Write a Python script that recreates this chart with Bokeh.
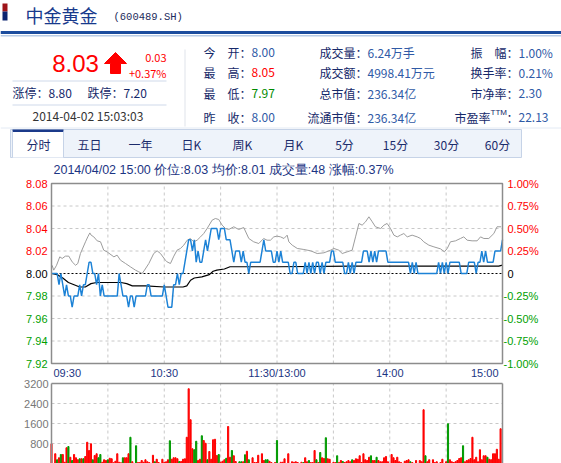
from bokeh.plotting import figure
from bokeh.models import Range1d
from bokeh.layouts import column
from bokeh.core.properties import value
from bokeh.embed import file_html
from bokeh.resources import INLINE

# ---------------- data ----------------
stock_name = "中金黄金"
stock_code = "(600489.SH)"
last_price = "8.03"
change_abs = "0.03"
change_pct = "+0.37%"
limit_up = "涨停：8.80"
limit_down = "跌停：7.20"
quote_time = "2014-04-02 15:03:03"

col1_labels = ["今\u3000开：", "最\u3000高：", "最\u3000低：", "昨\u3000收："]
col1_values = ["8.00", "8.05", "7.97", "8.00"]
col1_kinds = ["flat", "up", "down", "flat"]
col2_labels = ["成交量：", "成交额：", "总市值：", "流通市值："]
col2_values = ["6.24万手", "4998.41万元", "236.34亿", "236.34亿"]
col3_labels = ["振\u3000幅：", "换手率：", "市净率：", "市盈率"]
col3_values = ["1.00%", "0.21%", "2.30", "22.13"]

tabs = ["分时", "五日", "一年", "日K", "周K", "月K", "5分", "15分", "30分", "60分"]
info_line = "2014/04/02 15:00  价位:8.03  均价:8.01  成交量:48  涨幅:0.37%"

prev_close = 8.00
price_ticks = [8.08, 8.06, 8.04, 8.02, 8.00, 7.98, 7.96, 7.94, 7.92]
pct_ticks = [1.0, 0.75, 0.5, 0.25, 0.0, -0.25, -0.5, -0.75, -1.0]
pct_labels = ["1.00%", "0.75%", "0.50%", "0.25%", "0", "-0.25%", "-0.50%", "-0.75%", "-1.00%"]
time_ticks = [0, 60, 120, 180, 240]
time_labels = ["09:30", "10:30", "11:30/13:00", "14:00", "15:00"]
time_grid = [30, 60, 90, 120, 150, 180, 210]
vol_ticks = [800, 1600, 2400, 3200]
vol_max = 3200

# minute price (241 minutes, 09:30 .. 15:00)
price = [
    8.00, 8.00, 8.00, 8.00, 7.99, 8.00, 7.99, 7.98, 7.99, 7.98,
    7.98, 7.97, 7.98, 7.98, 7.98, 7.99, 7.98, 7.99, 7.99, 8.00,
    8.01, 8.01, 8.00, 8.00, 7.99, 8.00, 7.98, 7.99, 7.98, 7.98,
    7.98, 7.98, 7.98, 7.98, 7.98, 7.98, 8.00, 7.99, 7.98, 7.98,
    7.98, 7.97, 7.98, 7.98, 7.97, 7.98, 7.98, 7.98, 7.98, 7.98,
    7.98, 7.99, 7.99, 7.98, 7.98, 7.98, 7.98, 7.98, 7.98, 7.98,
    7.99, 7.98, 7.97, 7.97, 7.97, 7.99, 7.99, 8.00, 7.99, 8.00,
    8.00, 8.01, 8.02, 8.03, 8.03, 8.02, 8.03, 8.01, 8.02, 8.01,
    8.01, 8.02, 8.03, 8.02, 8.03, 8.04, 8.04, 8.04, 8.04, 8.03,
    8.04, 8.04, 8.04, 8.03, 8.03, 8.03, 8.02, 8.01, 8.02, 8.02,
    8.02, 8.01, 8.02, 8.01, 8.01, 8.00, 8.01, 8.01, 8.01, 8.01,
    8.01, 8.01, 8.02, 8.03, 8.02, 8.02, 8.02, 8.02, 8.01, 8.01,
    8.02, 8.01, 8.02, 8.01, 8.01, 8.01, 8.01, 8.00, 8.00, 8.01,
    8.01, 8.00, 8.00, 8.00, 8.00, 8.01, 8.00, 8.01, 8.00, 8.01,
    8.00, 8.01, 8.01, 8.00, 8.01, 8.00, 8.01, 8.01, 8.01, 8.02,
    8.02, 8.01, 8.01, 8.01, 8.01, 8.01, 8.00, 8.00, 8.01, 8.00,
    8.01, 8.00, 8.01, 8.01, 8.01, 8.01, 8.02, 8.02, 8.02, 8.01,
    8.02, 8.01, 8.02, 8.01, 8.02, 8.02, 8.02, 8.02, 8.02, 8.01,
    8.01, 8.01, 8.01, 8.01, 8.01, 8.01, 8.01, 8.01, 8.01, 8.01,
    8.01, 8.00, 8.01, 8.00, 8.01, 8.00, 8.00, 8.00, 8.00, 8.00,
    8.00, 8.00, 8.00, 8.00, 8.00, 8.00, 8.01, 8.00, 8.01, 8.00,
    8.01, 8.00, 8.01, 8.01, 8.01, 8.01, 8.01, 8.01, 8.00, 8.00,
    8.00, 8.00, 8.01, 8.01, 8.01, 8.01, 8.00, 8.01, 8.01, 8.02,
    8.01, 8.02, 8.01, 8.01, 8.01, 8.01, 8.02, 8.02, 8.02, 8.02,
    8.03,
]
minutes = list(range(len(price)))

# average price (read points)
avg_t = [0, 3, 6, 9, 12, 15, 18, 21, 24, 30, 37, 40, 43, 50, 60, 70, 72, 74, 76, 80,
         84, 86, 88, 92, 95, 120, 160, 238, 240]
avg_v = [8.000, 7.999, 7.996, 7.992, 7.990, 7.988, 7.988, 7.991, 7.992, 7.992, 7.992,
         7.991, 7.989, 7.989, 7.988, 7.988, 7.989, 7.994, 7.996, 7.997, 7.999, 8.002,
         8.003, 8.004, 8.006, 8.006, 8.0065, 8.0065, 8.0075]

# index change in % (gray line, read points)
idx_t = [0.3, 1.2, 2.7, 4.4, 5.7, 7.4, 9.2, 11, 12.8, 14, 15.4, 18.1, 19.3, 20.4, 21.1,
         22.5, 24.3, 26.1, 27.8, 29.6, 33.2, 34.9, 36.7, 39.4, 42, 44.7, 46.5, 48.2,
         49.5, 51.8, 54.4, 56.2, 58, 60.6, 61.5, 63.3, 65.1, 66.8, 68.6, 70.4, 72.2,
         73.9, 75.7, 77.5, 79.3, 81, 82.8, 85.5, 87.2, 89, 90.8, 92.6, 94.3, 97, 99.6,
         102.3, 105, 107.6, 110.3, 112.9, 114.7, 116.5, 118.3, 120,
         121.9, 123.7, 125.4, 126.3, 128.1, 130.8, 134.3, 137.9, 141.4, 145, 148.5,
         150.3, 152.9, 154.7, 157.4, 160, 161.8, 163.6, 165.3, 167.1, 168.9, 170.7,
         172.4, 175.1, 176.9, 178.6, 180.4, 182.2, 184, 185.7, 187.5, 189.3, 191.9,
         194.6, 196.4, 198.1, 200.8, 203.5, 207, 209.1, 210.6, 212.3, 215, 217.6,
         219.4, 221.2, 223.8, 226.5, 228.3, 230.1, 232.7, 235.4, 237.1, 239.3]
idx_pct = [0.092, 0.037, 0.092, 0.185, 0.167, 0.193, 0.193, 0.129, 0.092, 0.111, 0.222,
           0.352, 0.407, 0.451, 0.426, 0.407, 0.363, 0.352, 0.259, 0.240, 0.185, 0.204,
           0.148, 0.111, 0.074, 0.037, 0.018, 0.0, 0.037, 0.111, 0.222, 0.252, 0.222,
           0.148, 0.129, 0.111, 0.193, 0.259, 0.278, 0.315, 0.370, 0.389, 0.352, 0.370,
           0.407, 0.444, 0.500, 0.593, 0.611, 0.600, 0.537, 0.500, 0.489, 0.519, 0.489,
           0.511, 0.389, 0.352, 0.333, 0.389, 0.370, 0.370, 0.407, 0.415,
           0.407, 0.389, 0.426, 0.352, 0.315, 0.278, 0.267, 0.252, 0.222, 0.230, 0.259,
           0.278, 0.259, 0.222, 0.241, 0.259, 0.407, 0.556, 0.537, 0.574, 0.630, 0.574,
           0.519, 0.500, 0.537, 0.556, 0.500, 0.426, 0.407, 0.426, 0.444, 0.407, 0.426,
           0.407, 0.389, 0.352, 0.315, 0.296, 0.274, 0.241, 0.278, 0.352, 0.363, 0.389,
           0.407, 0.370, 0.363, 0.363, 0.407, 0.389, 0.389, 0.444, 0.519, 0.519]

# volume bars (minute, lots, direction)
vol_t = [0, 2, 3, 4, 5, 6, 7, 8, 9, 10, 11, 12, 13, 14, 15, 16, 17, 18, 19, 20,
         21, 22, 23, 24, 25, 26, 27, 28, 29, 30, 31, 32, 33, 34, 35, 36, 37, 38, 39, 40,
         41, 42, 43, 45, 46, 47, 48, 49, 50, 51, 52, 54, 55, 56, 57, 59, 60, 61, 62, 63,
         64, 65, 66, 67, 68, 69, 70, 71, 72, 73, 74, 75, 76, 77, 78, 79, 80, 81, 82, 83,
         84, 85, 86, 87, 88, 89, 90, 91, 92, 93, 94, 95, 96, 97, 98, 100, 101, 102, 103, 104,
         105, 107, 108, 109, 110, 112, 113, 114, 115, 116, 117, 119, 120,
         122, 123, 124, 126, 128, 129, 130, 131, 133, 134, 135, 136, 137, 138, 139, 140,
         141, 142, 143, 144, 145, 146, 147, 148, 150, 151, 152, 153, 154, 155, 156, 157,
         158, 159, 160, 161, 162, 163, 164, 165, 166, 167, 168, 169, 170, 171, 172, 173,
         174, 175, 176, 177, 178, 179, 181, 182, 183, 184, 185, 186, 188, 189, 190, 191,
         192, 194, 196, 197, 198, 199, 200, 201, 203, 204, 205, 207, 208, 210, 211, 212,
         213, 214, 215, 216, 217, 218, 219, 220, 221, 222, 223, 224, 225, 226, 227, 228,
         229, 230, 231, 232, 233, 234, 235, 236, 237, 238, 239]
vol_v = [790, 390, 150, 230, 360, 360, 50, 630, 680, 250, 120, 360, 230, 150, 190, 190, 190, 280, 850, 520,
         790, 150, 320, 390, 230, 360, 50, 150, 120, 150, 210, 190, 30, 90, 390, 50, 30, 230, 230, 230,
         390, 1050, 70, 710, 40, 40, 120, 50, 150, 70, 40, 330, 70, 170, 40, 170, 40, 70, 150, 910,
         170, 230, 230, 190, 80, 80, 170, 190, 1050, 2990, 1750, 590, 550, 890, 120, 170, 1110, 920, 810, 150,
         480, 170, 950, 970, 320, 360, 50, 90, 150, 210, 1480, 250, 520, 310, 80, 70, 70, 70, 350, 490,
         150, 230, 40, 40, 330, 390, 120, 150, 150, 90, 40, 40, 920,
         50, 50, 190, 390, 70, 50, 70, 40, 50, 40, 230, 70, 120, 40, 40, 520,
         150, 40, 440, 230, 200, 1030, 190, 170, 40, 40, 310, 40, 120, 80, 40, 70,
         120, 70, 150, 120, 190, 170, 310, 40, 390, 150, 120, 250, 310, 120, 120, 250,
         120, 70, 70, 230, 280, 70, 360, 230, 120, 250, 70, 40, 90, 120, 150, 70,
         40, 120, 120, 70, 2150, 310, 70, 150, 150, 40, 70, 40, 170, 70, 1590, 150,
         70, 40, 70, 120, 200, 230, 710, 70, 120, 150, 200, 1050, 150, 250, 70, 550,
         150, 310, 310, 250, 170, 150, 390, 390, 570, 170, 1390]
vol_dir = ["+", "+", "-", "+", "-", "+", "+", "+", "-", "+", "-", "+", "+", "+", "-", "+", "-", "+", "+", "+",
           "+", "-", "+", "+", "-", "-", "+", "+", "+", "-", "+", "+", "+", "+", "+", "+", "+", "-", "+", "+",
           "+", "-", "+", "-", "+", "+", "+", "+", "+", "+", "+", "+", "-", "+", "+", "+", "+", "+", "+", "-",
           "+", "+", "+", "+", "-", "+", "+", "+", "+", "+", "+", "+", "-", "-", "+", "+", "-", "+", "+", "-",
           "+", "+", "+", "+", "+", "-", "+", "+", "+", "-", "+", "+", "-", "+", "+", "-", "-", "+", "-", "+",
           "-", "+", "+", "+", "+", "+", "+", "-", "-", "+", "+", "+", "-",
           "+", "+", "+", "+", "+", "+", "+", "+", "+", "-", "+", "+", "-", "+", "+", "+",
           "-", "+", "-", "+", "+", "-", "+", "+", "+", "+", "-", "+", "+", "-", "+", "+",
           "+", "+", "-", "+", "+", "+", "+", "+", "+", "+", "+", "+", "-", "+", "+", "-",
           "+", "+", "+", "+", "+", "+", "+", "+", "+", "+", "+", "+", "+", "+", "+", "-",
           "+", "+", "+", "+", "+", "-", "+", "+", "+", "+", "+", "+", "+", "+", "-", "+",
           "+", "+", "+", "+", "+", "+", "-", "+", "+", "+", "+", "+", "+", "+", "+", "+",
           "+", "+", "+", "-", "+", "+", "+", "+", "+", "+", "+"]

# ---------------- style / layout ----------------
CJK = "Noto Sans CJK SC"
SANS = "Liberation Sans"
MONO = "Liberation Mono"
NAVY = "#15296a"
VAL = "#2f5aa6"
RED = "#ff0000"
GREEN = "#008a00"
LGREEN = "#00a000"
GRID = "#c8c8c8"
FRAME = "#8c8c8c"
W = 561
HDR_H, PR_H, VOL_H = 176, 202, 85
PLOT_L, PLOT_R = 51, 502          # plot frame (page px)
PR_TOP, PR_BOT = 183, 363         # price frame (page px)
VOL_TOP, VOL_BOT = 383, 463       # volume frame (page px)
T0, T1 = time_ticks[0], time_ticks[-1]


def kind_color(k):
    return {"up": RED, "down": GREEN}.get(k, VAL)


def span_range(v_lo, v_hi, px_lo, px_hi, px0, px1):
    """range whose v_lo sits at px_lo and v_hi at px_hi on a canvas from px0 to px1"""
    k = (v_hi - v_lo) / (px_hi - px_lo)
    return v_lo - (px_lo - px0) * k, v_hi + (px1 - px_hi) * k


# ---------------- header ----------------
hdr = figure(width=W, height=HDR_H, x_range=Range1d(0, W), y_range=Range1d(HDR_H, 0),
             x_axis_type=None, y_axis_type=None, toolbar_location=None,
             output_backend="svg", min_border=0, outline_line_color=None)
hdr.xgrid.visible = False
hdr.ygrid.visible = False


def txt(x, y, s, size=12, color=NAVY, font=CJK, align="left"):
    hdr.text(x=[x], y=[y], text=[s], text_font=value(font),
             text_font_size=f"{size}px", text_color=color, text_align=align,
             text_baseline="middle")


def box(l, r, t, b, fill, line=None):
    hdr.quad(left=[l], right=[r], top=[t], bottom=[b], fill_color=fill, line_color=line)


def hline(x0, x1, y, color, w=1):
    hdr.segment(x0=[x0], x1=[x1], y0=[y], y1=[y], line_color=color, line_width=w)


box(2, 7, 3, 11, "#9e1419")
box(2, 7, 11, 20, "#0c2470")
txt(25, 14, stock_name, 18, "#17398c")
txt(113, 16.5, stock_code, 10.5, "#1d2b5c", MONO)
box(0, W, 30.5, 33.5, "#1c4d9e")
box(0, W, 34.5, 36, "#b8cce6")

txt(75, 63, last_price, 24, RED, SANS, "center")
hdr.patch(x=[115, 126, 120, 120, 110, 110, 104], y=[52, 63, 63, 73, 73, 63, 63],
          fill_color=RED, line_color=RED)
txt(166, 57.5, change_abs, 11, RED, CJK, "right")
txt(166, 72.5, change_pct, 11, RED, CJK, "right")
hline(12, 166, 80.5, "#cfd9ea")
hline(12, 166, 104.5, "#cfd9ea")
txt(12, 92, limit_up, 12, NAVY)
txt(87, 92, limit_down, 12, NAVY)
txt(32, 115, quote_time, 12, "#333333")
hdr.segment(x0=[184.5], x1=[184.5], y0=[49], y1=[126], line_color="#dfe3ea")

rows_y = [52, 72, 93, 117]
for i, yy in enumerate(rows_y):
    txt(203, yy, col1_labels[i], 12, NAVY)
    txt(251, yy, col1_values[i], 12, kind_color(col1_kinds[i]))
    txt(367, yy, col2_labels[i], 12, NAVY, CJK, "right")
    txt(367, yy, col2_values[i], 12, VAL)
    if i < 3:
        txt(518, yy, col3_labels[i], 12, NAVY, CJK, "right")
    else:
        txt(490, yy, col3_labels[i], 12, NAVY, CJK, "right")
        txt(490, yy - 5, "TTM", 8, NAVY, SANS)
        txt(518, yy, "：", 12, NAVY, CJK, "right")
    txt(518, yy, col3_values[i], 12, VAL)

hline(0, W, 127.5, "#e3eaf4")

box(10, 521, 129, 157, "#eef3fa", "#c6d3e7")
box(12, 63, 130, 157, "#ffffff", None)
box(12, 63, 129, 131.5, "#1b3a8a", None)
hdr.segment(x0=[12, 63], x1=[12, 63], y0=[131, 131], y1=[157, 157], line_color="#c6d3e7")
for i, t in enumerate(tabs):
    txt(38 + i * 51, 144, t, 12, "#1b2b6b", CJK, "center")

txt(53, 169, info_line, 12.5, "#1c3583", SANS)

# ---------------- price chart ----------------
x0, x1 = span_range(T0, T1, PLOT_L, PLOT_R, 0, W)
y_lo, y_hi = span_range(price_ticks[-1], price_ticks[0], PR_BOT, PR_TOP, HDR_H + PR_H, HDR_H)
p_lo, p_hi = span_range(pct_ticks[-1], pct_ticks[0], PR_BOT, PR_TOP, HDR_H + PR_H, HDR_H)
xr = Range1d(x0, x1)
pf = figure(width=W, height=PR_H, x_range=xr, y_range=Range1d(y_lo, y_hi),
            x_axis_type=None, y_axis_type=None, toolbar_location=None, output_backend="svg",
            min_border=0, outline_line_color=None)
pf.extra_y_ranges = {"pct": Range1d(p_lo, p_hi)}
pf.xgrid.visible = False
pf.ygrid.visible = False

PMIN, PMAX = price_ticks[-1], price_ticks[0]
pf.segment(x0=time_grid, x1=time_grid, y0=[PMIN] * len(time_grid), y1=[PMAX] * len(time_grid),
           line_color=GRID, line_dash="3 3", line_width=1)
inner = [v for v in price_ticks[1:-1] if abs(v - prev_close) > 1e-9]
pf.segment(x0=[T0] * len(inner), x1=[T1] * len(inner), y0=inner, y1=inner,
           line_color=GRID, line_dash="3 3", line_width=1)
pf.segment(x0=[T0], x1=[T1], y0=[prev_close], y1=[prev_close],
           line_color="#000000", line_dash="2 2", line_width=1)

pf.line(idx_t, idx_pct, y_range_name="pct", line_color="#9c9c9c", line_width=1)
pf.line(avg_t, avg_v, line_color="#000000", line_width=1.2)
pf.line(minutes, price, line_color="#1c82d6", line_width=1.5)
pf.quad(left=[T0], right=[T1], bottom=[PMIN], top=[PMAX], fill_color=None,
        line_color=FRAME, line_width=1.5)


def pcol(v, ref):
    if v > ref + 1e-9:
        return RED
    if v < ref - 1e-9:
        return LGREEN
    return "#000000"


pf.text(x=[T0] * len(price_ticks), y=price_ticks, text=[f"{v:.2f}" for v in price_ticks],
        text_color=[pcol(v, prev_close) for v in price_ticks], x_offset=-4,
        text_align="right", text_baseline="middle", text_font=value(SANS), text_font_size="11px")
for sign, off in ((1, 5), (-1, 1)):
    ids = [i for i, v in enumerate(pct_ticks) if (v >= 0) == (sign > 0)]
    pf.text(x=[T1] * len(ids), y=[pct_ticks[i] for i in ids], text=[pct_labels[i] for i in ids],
            text_color=[pcol(pct_ticks[i], 0) for i in ids], x_offset=off, y_range_name="pct",
            text_align="left", text_baseline="middle", text_font=value(SANS), text_font_size="11px")
aligns = ["left"] + ["center"] * (len(time_ticks) - 2) + ["right"]
xoffs = [2] + [0] * (len(time_ticks) - 2) + [-4]
pf.text(x=time_ticks, y=[PMIN] * len(time_ticks), text=time_labels, text_align=aligns,
        x_offset=xoffs, y_offset=3, text_baseline="top", text_color="#1c3583",
        text_font=value(SANS), text_font_size="11px")

# ---------------- volume chart ----------------
v_lo, v_hi = span_range(0, vol_max, VOL_BOT, VOL_TOP, HDR_H + PR_H + VOL_H, HDR_H + PR_H)
vf = figure(width=W, height=VOL_H, x_range=xr, y_range=Range1d(v_lo, v_hi),
            x_axis_type=None, y_axis_type=None, toolbar_location=None, output_backend="svg",
            min_border=0, outline_line_color=None)
vf.xgrid.visible = False
vf.ygrid.visible = False
vf.segment(x0=time_grid, x1=time_grid, y0=[0] * len(time_grid), y1=[vol_max] * len(time_grid),
           line_color=GRID, line_dash="3 3", line_width=1)
vg = vol_ticks[:-1]
vf.segment(x0=[T0] * len(vg), x1=[T1] * len(vg), y0=vg, y1=vg,
           line_color=GRID, line_dash="3 3", line_width=1)
vf.vbar(x=vol_t, top=vol_v, width=0.6,
        color=[RED if d == "+" else "#009a00" for d in vol_dir])
vf.segment(x0=[T0, T0, T1], x1=[T1, T0, T1], y0=[vol_max, 0, 0], y1=[vol_max, vol_max, vol_max],
           line_color=FRAME, line_width=1.5)
vf.text(x=[T0] * len(vol_ticks), y=vol_ticks, text=[str(v) for v in vol_ticks], x_offset=-3,
        text_align="right", text_baseline="middle", text_color="#777777",
        text_font=value(SANS), text_font_size="11px")

layout = column(hdr, pf, vf)
open("out.html", "w").write(file_html(layout, INLINE))
